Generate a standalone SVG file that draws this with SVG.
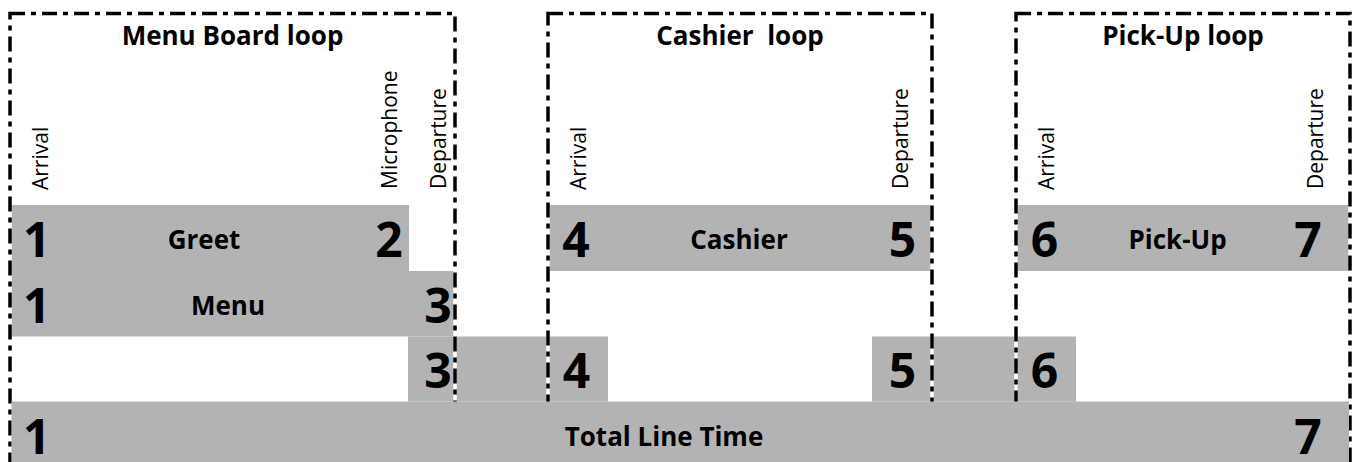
<svg xmlns="http://www.w3.org/2000/svg" width="1354" height="462" viewBox="0 0 1354 462">
<style>
.bar{fill:#b3b3b3}
.loopbg{fill:none;stroke:#ffffff;stroke-width:3.5}
.loop{fill:none;stroke:#000000;stroke-width:3.5;stroke-dasharray:15 6 5 6}
.title{font-family:"Open Sans","Noto Sans",sans-serif;font-weight:bold;font-size:26px;text-anchor:middle;fill:#000}
.lbl{font-family:"Open Sans","Noto Sans",sans-serif;font-weight:bold;font-size:26px;text-anchor:middle;fill:#000}
.num{font-family:"Open Sans","Noto Sans",sans-serif;font-weight:bold;font-size:48px;text-anchor:middle;fill:#000}
.vt{font-family:"Open Sans","Noto Sans",sans-serif;font-size:21px;fill:#000}
</style>
<rect width="1354" height="462" fill="#ffffff"/>
<g id="bars">
<rect id="greet-bar" class="bar" x="10" y="205" width="399" height="66"/>
<rect id="menu-bar" class="bar" x="10" y="271" width="445" height="65.5"/>
<rect id="cashier-bar" class="bar" x="548" y="205" width="384" height="66"/>
<rect id="pickup-bar" class="bar" x="1016" y="205" width="334" height="66"/>
<rect id="transit34-bar" class="bar" x="408" y="336.5" width="200" height="65"/>
<rect id="transit56-bar" class="bar" x="872" y="336.5" width="204" height="65"/>
</g>
<g id="menu-board-loop">
<rect class="loopbg" x="10" y="13.5" width="445" height="470"/>
<rect class="loop" x="10" y="13.5" width="445" height="470"/>
<text class="title" x="232.5" y="45">Menu Board loop</text>
<text class="vt" transform="translate(48,190) rotate(-90)">Arrival</text>
<text class="vt" transform="translate(397,189) rotate(-90)">Microphone</text>
<text class="vt" transform="translate(446,189) rotate(-90)">Departure</text>
</g>
<g id="cashier-loop">
<rect class="loopbg" x="548" y="13.5" width="384" height="470"/>
<rect class="loop" x="548" y="13.5" width="384" height="470"/>
<text class="title" x="740" y="45" xml:space="preserve">Cashier  loop</text>
<text class="vt" transform="translate(586,190) rotate(-90)">Arrival</text>
<text class="vt" transform="translate(908,189) rotate(-90)">Departure</text>
</g>
<g id="pickup-loop">
<rect class="loopbg" x="1016" y="13.5" width="334" height="470"/>
<rect class="loop" x="1016" y="13.5" width="334" height="470"/>
<text class="title" x="1183" y="45">Pick-Up loop</text>
<text class="vt" transform="translate(1054,190) rotate(-90)">Arrival</text>
<text class="vt" transform="translate(1323,189) rotate(-90)">Departure</text>
</g>
<g id="total-bar">
<rect class="bar" x="11.5" y="401.5" width="1337.5" height="66"/>
</g>
<g id="labels">
<text class="lbl" x="204" y="249">Greet</text>
<text class="lbl" x="228" y="315">Menu</text>
<text class="lbl" x="739" y="249">Cashier</text>
<text class="lbl" x="1177.5" y="249">Pick-Up</text>
<text class="lbl" x="664" y="446">Total Line Time</text>
</g>
<g id="numbers">
<text class="num" x="36.7" y="257">1</text>
<text class="num" x="389" y="257">2</text>
<text class="num" x="576" y="257">4</text>
<text class="num" x="902.5" y="257">5</text>
<text class="num" x="1044.5" y="257">6</text>
<text class="num" x="1308" y="257">7</text>
<text class="num" x="36.7" y="323">1</text>
<text class="num" x="438" y="323">3</text>
<text class="num" x="438" y="388">3</text>
<text class="num" x="576.5" y="388">4</text>
<text class="num" x="902.5" y="388">5</text>
<text class="num" x="1044.5" y="388">6</text>
<text class="num" x="36.7" y="454">1</text>
<text class="num" x="1308" y="454">7</text>
</g>
</svg>
